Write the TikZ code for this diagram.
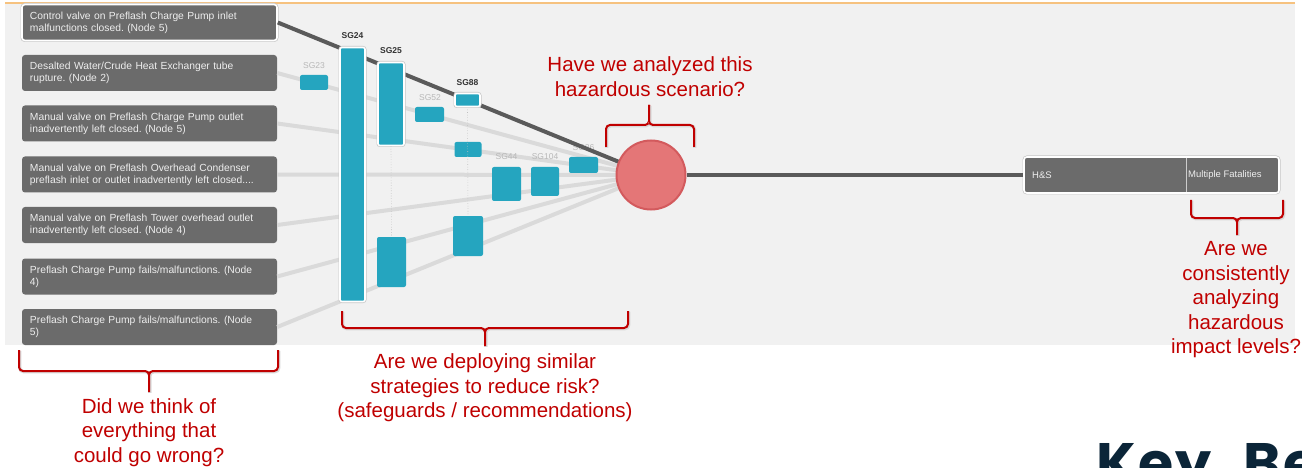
\documentclass[tikz,border=0pt]{standalone}
\usepackage{fontspec}
\setmainfont{Liberation Sans}
\newfontfamily\keyfont{Poppins}[LetterSpace=4,WordSpace=2.2]
\definecolor{panel}{HTML}{F1F1F1}
\definecolor{orangeline}{HTML}{F6C27F}
\definecolor{evtfill}{HTML}{6B6B6B}
\definecolor{evttext}{HTML}{EEEEEE}
\definecolor{tealbar}{HTML}{25A5BF}
\definecolor{liteline}{HTML}{DADADA}
\definecolor{darkline}{HTML}{5A5A5A}
\definecolor{circfill}{HTML}{E47677}
\definecolor{circdraw}{HTML}{D35A5D}
\definecolor{annred}{HTML}{C00000}
\definecolor{sggray}{HTML}{B8B8B8}
\definecolor{sgdark}{HTML}{333333}
\definecolor{keynavy}{HTML}{0B2538}
\frenchspacing
\tikzset{
  evt/.style={fill=evtfill, rounded corners=3pt, minimum width=255pt, minimum height=36pt,
    inner xsep=8pt, inner ysep=0pt, text width=239pt, align=left, text=evttext,
    font=\fontsize{10.3}{12}\selectfont},
  selbox/.style={draw=white, line width=1.6pt, preaction={draw=black!22, line width=3pt}},
  bar/.style={fill=tealbar, rounded corners=2pt, inner sep=0pt},
  sglab/.style={text=sggray, font=\fontsize{8.5}{10}\selectfont, inner sep=0pt},
  sgbold/.style={text=sgdark, font=\bfseries\fontsize{8.5}{10}\selectfont, inner sep=0pt},
  lite/.style={draw=liteline, line width=4pt},
  darkc/.style={draw=darkline, line width=4pt},
  dotv/.style={draw=black!25, line width=0.6pt, dotted},
  brace/.style={draw=annred, line width=2pt, rounded corners=4pt, preaction={draw=black!15, line width=3.2pt, transform canvas={xshift=0.8pt,yshift=-0.8pt}}},
  ann/.style={text=annred, align=center, font=\fontsize{20.5}{24.5}\selectfont, inner sep=0pt},
}
\begin{document}
\begin{tikzpicture}[x=1pt,y=-1pt]
\useasboundingbox (0,0) rectangle (1302,468);
\fill[white] (0,0) rectangle (1302,468);
\fill[panel] (5,3) rectangle (1295,345);
\draw[orangeline, line width=1.5pt] (5,3) -- (1295,3);

% event boxes
\node[evt, selbox] (e1) at (149.5,22.5) {Control valve on Preflash Charge Pump inlet\\malfunctions closed. (Node 5)};
\node[evt] (e2) at (149.5,73) {Desalted Water/Crude Heat Exchanger tube\\rupture. (Node 2)};
\node[evt] (e3) at (149.5,123.5) {Manual valve on Preflash Charge Pump outlet\\inadvertently left closed. (Node 5)};
\node[evt] (e4) at (149.5,174.5) {Manual valve on Preflash Overhead Condenser\\preflash inlet or outlet inadvertently left closed....};
\node[evt] (e5) at (149.5,225) {Manual valve on Preflash Tower overhead outlet\\inadvertently left closed. (Node 4)};
\node[evt] (e6) at (149.5,276.5) {Preflash Charge Pump fails/malfunctions. (Node\\4)};
\node[evt] (e7) at (149.5,327) {Preflash Charge Pump fails/malfunctions. (Node\\5)};

% scenario circle position
\coordinate (evc) at (651,175);

% light connectors
\draw[lite] (e2.east) -- (evc);
\draw[lite] (e3.east) -- (evc);
\draw[lite] (e4.east) -- (evc);
\draw[lite] (e5.east) -- (evc);
\draw[lite] (e6.east) -- (evc);
\draw[lite] (e7.east) -- (evc);

% SG labels
\node[sglab] (l23) at (314,66) {SG23};
\node[sgbold] (l24) at (352.5,36) {SG24};
\node[sgbold] (l25) at (391,51) {SG25};
\node[sglab] (l52) at (430,98) {SG52};
\node[sgbold] (l88) at (467.5,83) {SG88};
\node[sglab] (l44) at (506.5,157) {SG44};
\node[sglab] (l104) at (545,157) {SG104};
\node[sglab] (l26) at (583.5,148) {SG26};

\draw[darkc] (e1.east) -- (evc);

% bars
\node[bar, minimum width=28pt, minimum height=15pt] (sg23) at (314,82.5) {};
\node[bar, minimum width=29pt, minimum height=15pt] (sg52) at (429.5,114.5) {};
\node[bar, minimum width=27pt, minimum height=15pt] (sg88b) at (468,149.5) {};
\node[bar, minimum width=30pt, minimum height=40pt] (sg88c) at (468,236) {};
\draw[dotv] (467.5,107) -- (sg88c.north);
\node[bar, minimum width=29pt, minimum height=50pt] (sg25b) at (391.5,262) {};
\node[bar, minimum width=29pt, minimum height=34pt] (sg44) at (506.5,184) {};
\node[bar, minimum width=28pt, minimum height=29pt] (sg104) at (545,181.5) {};
\node[bar, minimum width=29pt, minimum height=16pt] (sg26) at (583.5,165) {};
\node[bar, selbox, minimum width=25pt, minimum height=254pt] (sg24) at (352.5,174.5) {};
\node[bar, selbox, minimum width=26pt, minimum height=83pt] (sg25) at (391,104) {};
\draw[dotv] (sg25.south) -- (sg25b.north);
\node[bar, selbox, minimum width=25pt, minimum height=13pt] (sg88) at (467.5,100) {};

% circle
\node[circle, fill=circfill, draw=circdraw, line width=2pt, minimum size=69pt, inner sep=0pt] (ev) at (evc) {};

% consequence box
\node[fill=evtfill, rounded corners=3pt, selbox, minimum width=255pt, minimum height=36pt, inner sep=0pt] (hs) at (1151.5,175) {};
\draw[darkc] (ev.east) -- (hs.west);
\draw[draw=white!80!black, line width=0.8pt] (1186,158) -- (1186,192);
\node[anchor=west, text=evttext, font=\fontsize{9.5}{11}\selectfont, inner sep=0pt] (hst) at (1032,175) {H\&S};
\node[anchor=west, text=evttext, font=\fontsize{9.5}{11}\selectfont, inner sep=0pt] (mft) at (1188,175) {Multiple Fatalities};

% braces
\draw[brace] (19,350) -- (19,371) -- (149,371) -- (149,392);
\draw[brace] (149,392) -- (149,371) -- (278,371) -- (278,350);
\draw[brace] (342,311) -- (342,328) -- (485,328) -- (485,346);
\draw[brace] (485,346) -- (485,328) -- (628,328) -- (628,311);
\draw[brace] (606,147) -- (606,125) -- (649,125) -- (649,105);
\draw[brace] (649,105) -- (649,125) -- (694,125) -- (694,147);
\draw[brace] (1191,200) -- (1191,218) -- (1237,218) -- (1237,235);
\draw[brace] (1237,235) -- (1237,218) -- (1283,218) -- (1283,200);

% annotations
\node[ann] (q1) at (149,432.5) {Did we think of\\everything that\\could go wrong?};
\node[ann] (q2) at (485,388) {Are we deploying similar\\strategies to reduce risk?\\(safeguards / recommendations)};
\node[ann] (q3) at (650,76.5) {Have we analyzed this\\hazardous scenario?};
\node[ann] (q4) at (1236,300) {Are we\\consistently\\analyzing\\hazardous\\impact levels?};

\begin{scope}
\clip (0,0) rectangle (1302,468);
\node[anchor=base west, inner sep=0pt, text=keynavy, font=\keyfont\bfseries\fontsize{57}{57}\selectfont] (key) at (1096,483) {Key Ber};
\end{scope}
\end{tikzpicture}
\end{document}
